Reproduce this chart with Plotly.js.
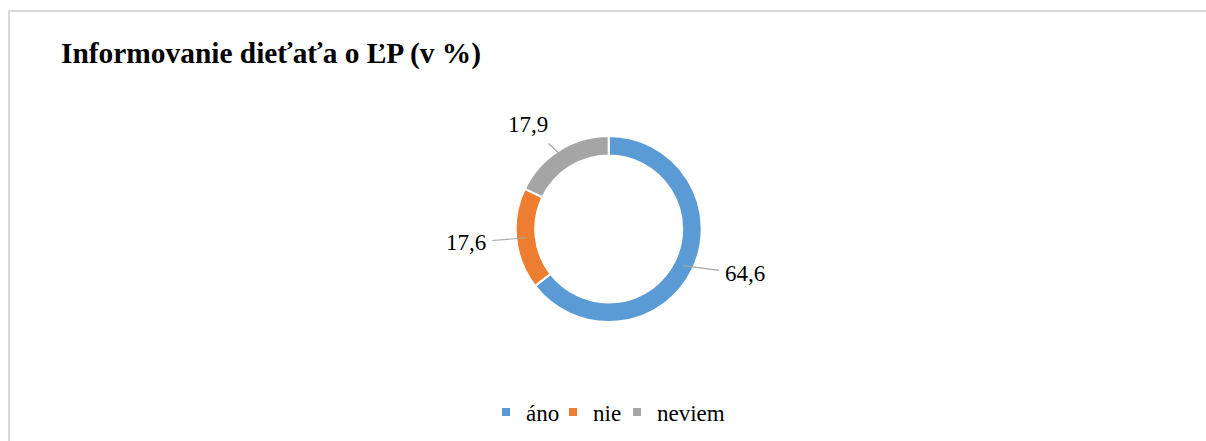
<!DOCTYPE html>
<html>
<head>
<meta charset="utf-8">
<script src="https://cdn.plot.ly/plotly-3.0.1.min.js"></script>
<style>
  html, body { margin: 0; padding: 0; background: #fff; overflow: hidden; }
  #chart { position: absolute; left: 0; top: 0; width: 1206px; height: 441px; }
  #frame { position: absolute; left: 8px; top: 10px; width: 1220px; height: 460px;
           border: 2px solid #d9d9d9; pointer-events: none; box-sizing: border-box; }
</style>
</head>
<body>
<div id="chart"></div>
<div id="frame"></div>
<script>
// ---- data ----
const categories = ["áno", "nie", "neviem"];
const values = [64.6, 17.6, 17.9];
const valueLabels = ["64,6", "17,6", "17,9"];
const colors = ["#5B9BD5", "#ED7D31", "#A5A5A5"];

// ---- layout constants ----
const W = 1206, H = 441;
const CX = 608.7, CY = 229, R = 93, HOLE = 0.79;
const labelOffsets = [[62, 8], [-60, 5], [-36, -34]]; // label offset from leader start (px)
const legendWidths = [22, 19, 70];
const FONT = "'Liberation Serif', 'Times New Roman', Times, serif";

const pie = {
  type: "pie",
  values: values,
  labels: categories,
  sort: false,
  direction: "clockwise",
  rotation: 0,
  hole: HOLE,
  textinfo: "none",
  hoverinfo: "label+value",
  showlegend: false,
  marker: { colors: colors, line: { color: "#ffffff", width: 2 } },
  domain: { x: [(CX - R) / W, (CX + R) / W], y: [1 - (CY + R) / H, 1 - (CY - R) / H] }
};

// legend entries with small square markers
const legendTraces = categories.map((c, i) => ({
  type: "scatter", mode: "markers", x: [null], y: [null], name: c,
  marker: { symbol: "square", size: 8, color: colors[i] },
  legendwidth: legendWidths[i],
  showlegend: true, hoverinfo: "skip"
}));

// leader lines + labels computed from data angles
const total = values.reduce((a, b) => a + b, 0);
const rMid = R * (1 + HOLE) / 2;
let cum = 0;
const annotations = values.map((v, i) => {
  const mid = (cum + v / 2) / total * 2 * Math.PI;
  cum += v;
  const px = CX + rMid * Math.sin(mid);
  const py = CY - rMid * Math.cos(mid);
  return {
    x: px / W, y: 1 - py / H, xref: "paper", yref: "paper",
    text: valueLabels[i], showarrow: true, arrowhead: 0, arrowwidth: 1.2,
    arrowcolor: "#a6a6a6", ax: labelOffsets[i][0], ay: labelOffsets[i][1],
    borderpad: 6,
    font: { family: FONT, size: 23, color: "#000000" }
  };
});

const layout = {
  width: W, height: H,
  margin: { l: 0, r: 0, t: 0, b: 0 },
  paper_bgcolor: "#ffffff", plot_bgcolor: "#ffffff",
  title: {
    text: "<b>Informovanie dieťaťa o ĽP (v %)</b>",
    font: { family: FONT, size: 29.4, color: "#000000" },
    xref: "container", yref: "container",
    x: 61 / W, xanchor: "left", y: 1 - 53 / H, yanchor: "middle"
  },
  xaxis: { visible: false }, yaxis: { visible: false },
  showlegend: true,
  legend: {
    orientation: "h", x: 486 / W, xanchor: "left", y: 1 - 412 / H, yanchor: "middle",
    font: { family: FONT, size: 23, color: "#000000" },
    itemwidth: 30, bgcolor: "rgba(0,0,0,0)"
  },
  annotations: annotations
};

Plotly.newPlot("chart", [pie].concat(legendTraces), layout, { displayModeBar: false, staticPlot: true });
</script>
</body>
</html>
